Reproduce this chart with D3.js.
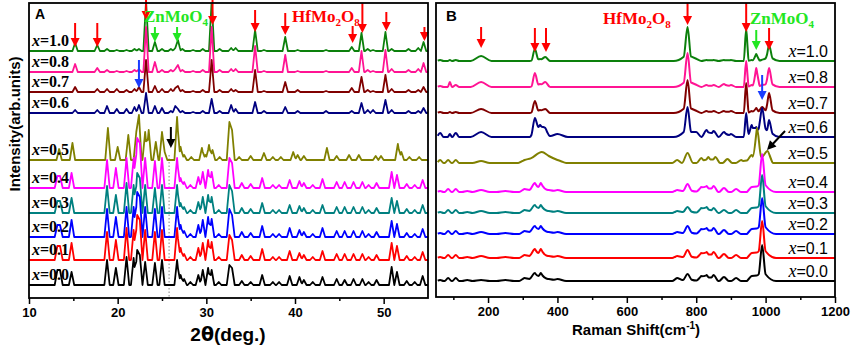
<!DOCTYPE html>
<html>
<head>
<meta charset="utf-8">
<script src="https://cdn.jsdelivr.net/npm/d3@7"></script>
<style>
  body { margin: 0; background: #fff; }
  svg text { font-family: "Liberation Sans", Arial, sans-serif; }
</style>
</head>
<body>
<div id="chart"></div>
<script>
// compositions, bottom to top
const labels = ['0.0', '0.1', '0.2', '0.3', '0.4', '0.5', '0.6', '0.7', '0.8', '1.0']
const colors = ['#000000', '#ff0000', '#0000ff', '#008080', '#ff00ff', '#808000', '#000080', '#800000', '#ff1493', '#0c800c']

// stacking offsets (arb. units)
const offsetsA = [13, 38, 61, 85, 110, 138, 185, 206, 226, 247]
const offsetsB = [16, 39, 63, 84, 105, 134, 160, 184, 210, 236]

// ---- XRD peaks (2theta, deg) ----
const xrdPosLow = [13.2, 13.5, 14.8, 18.8, 19.8, 21.0, 21.8, 22.2, 22.5, 23.1, 24.2, 25.0, 26.7, 27.1, 27.5, 28.2, 29.1, 29.6, 30.2, 30.6, 31.4, 32.6, 32.9, 34.0, 35.0, 36.3, 37.5, 38.2, 39.4, 40.5, 41.0, 42.0, 43.1, 44.7, 45.6, 46.6, 47.6, 48.3, 49.2, 50.9, 51.5, 52.6, 53.5, 54.4]
const xrd00 = [15, 15, 13, 25, 17, 28, 27, 35, 30, 23, 22, 25, 25, 10, 6, 3, 10, 15, 17, 15, 3, 20, 17, 4, 3, 10, 3, 3, 9, 8, 5, 3, 8, 6, 5, 6, 6, 3, 5, 18, 13, 4, 3, 9]
const xrd01 = [14, 14, 17, 28, 20, 32, 30, 45, 40, 30, 28, 30, 32, 12, 6, 3, 12, 17, 20, 18, 3, 25, 20, 5, 4, 11, 3, 3, 9, 7, 5, 3, 9, 6, 6, 6, 6, 3, 5, 17, 14, 4, 3, 8]
const xrd02 = [12, 12, 17, 28, 20, 30, 30, 45, 40, 30, 28, 30, 30, 12, 6, 3, 12, 17, 20, 18, 3, 28, 22, 5, 4, 11, 3, 3, 9, 7, 5, 3, 9, 6, 6, 6, 6, 3, 5, 16, 13, 4, 3, 8]
const xrd03 = [12, 12, 15, 27, 18, 30, 28, 40, 35, 28, 25, 28, 28, 10, 6, 3, 11, 16, 18, 16, 3, 28, 22, 5, 4, 10, 3, 3, 8, 7, 5, 3, 8, 6, 6, 6, 6, 3, 5, 15, 12, 4, 3, 8]
const xrd04 = [12, 12, 15, 28, 20, 30, 30, 50, 45, 30, 27, 30, 30, 10, 6, 3, 11, 16, 18, 16, 3, 30, 25, 5, 4, 10, 3, 3, 8, 7, 5, 3, 9, 6, 6, 6, 6, 3, 5, 16, 13, 4, 3, 8]

const xrdPosMid = [13.4, 14.9, 18.9, 20.0, 21.2, 22.1, 22.4, 23.1, 23.5, 24.3, 25.0, 25.3, 26.7, 27.1, 27.5, 28.3, 29.5, 29.9, 30.3, 30.7, 31.5, 32.6, 32.9, 33.7, 35.0, 36.5, 37.5, 38.4, 39.8, 40.3, 41.0, 43.6, 44.7, 46.1, 47.2, 49.1, 49.7, 51.6, 52.0, 52.9, 54.0]
const xrd05 = [11, 17, 32, 13, 25, 28, 45, 28, 30, 18, 28, 8, 43, 13, 5, 3, 12, 5, 15, 10, 3, 38, 30, 3, 4, 7, 3, 3, 8, 5, 4, 12, 4, 5, 5, 4, 4, 16, 8, 3, 3]

const xrdPosHigh = [15.2, 17.7, 18.8, 19.9, 21.0, 21.9, 22.4, 23.2, 24.2, 25.0, 26.0, 26.5, 26.8, 27.3, 28.5, 29.6, 30.6, 31.5, 32.8, 33.3, 35.5, 36.5, 38.9, 40.3, 43.5, 46.4, 47.5, 48.2, 48.8, 50.2, 50.9, 52.8, 53.9, 54.5]
const xrd06 = [3, 3, 7, 4, 4, 6, 8, 20, 7, 5, 2, 7, 4, 2, 1, 2, 14, 2, 8, 4, 11, 2, 6, 2, 2, 2, 10, 3, 3, 13, 3, 2, 2, 5]
const xrd07 = [5, 3, 3, 3, 2, 3, 5, 32, 6, 3, 3, 4, 6, 2, 1, 2, 32, 2, 3, 2, 22, 1, 10, 2, 1, 4, 15, 2, 1, 17, 3, 2, 2, 5]
const xrd08 = [8, 4, 2, 1, 1, 2, 3, 45, 10, 2, 2, 3, 7, 2, 1, 2, 45, 2, 3, 3, 26, 1, 17, 1, 1, 4, 21, 2, 1, 22, 3, 2, 3, 9]
const xrd10 = [8, 6, 2, 1, 1, 2, 2, 50, 9, 2, 2, 3, 11, 2, 1, 2, 50, 2, 3, 3, 21, 1, 14, 1, 1, 4, 18, 2, 1, 19, 2, 2, 3, 9]

// ---- Raman peaks (cm-1) ----
const ramPosLow = [62, 85, 107, 140, 180, 250, 305, 335, 345, 352, 375, 400, 745, 775, 775, 815, 830, 850, 880, 915, 960, 990, 990]
const ramWidLow = [10, 10, 10, 15, 25, 25, 15, 16, 45, 16, 18, 25, 14, 12, 35, 14, 14, 14, 14, 14, 14, 10, 40]
const ram00 = [1, 3, 3, 1, 1, 1, 3, 8, 5, 8, 2, 2, 3, 7, 2, 5, 6, 6, 4, 3, 5, 36, 9]
const ram01 = [1, 3, 3, 1, 2, 1, 3, 9, 5, 9, 2, 2, 2, 8, 2, 5, 6, 6, 4, 3, 5, 37, 9]
const ram02 = [1, 3, 3, 1, 2, 1, 3, 8, 5, 8, 2, 2, 2, 8, 2, 5, 6, 6, 4, 3, 5, 36, 9]
const ram03 = [1, 3, 3, 1, 2, 1, 3, 8, 5, 8, 2, 2, 2, 6, 2, 5, 6, 5, 3, 3, 5, 38, 9]
const ram04 = [1, 3, 3, 1, 2, 1, 3, 9, 5, 9, 2, 2, 2, 8, 2, 5, 6, 6, 4, 3, 5, 38, 9]

const ramPosMid = [62, 85, 107, 180, 305, 355, 400, 745, 775, 815, 835, 855, 890, 930, 960, 975, 975, 1005]
const ramWidMid = [10, 10, 10, 25, 18, 55, 25, 14, 16, 14, 14, 14, 14, 16, 14, 12, 40, 16]
const ram05 = [3, 3, 3, 2, 3, 11, 3, 3, 10, 5, 6, 6, 4, 3, 8, 35, 9, 12]

const ramPosHigh = [62, 90, 107, 180, 335, 350, 365, 400, 775, 775, 800, 830, 850, 880, 900, 944, 960, 973, 990, 1010, 1010]
const ramWidHigh = [10, 6, 10, 30, 10, 30, 12, 30, 11, 40, 15, 15, 15, 15, 15, 7, 12, 10, 14, 10, 30]
const ram06 = [4, 3, 4, 5, 19, 12, 9, 3, 30, 7, 5, 7, 6, 5, 3, 24, 12, 10, 29, 17, 5]
const ram07 = [1, 1, 1, 4, 12, 3, 4, 0, 33, 6, 2, 2, 2, 2, 2, 30, 2, 5, 6, 20, 4]
const ram08 = [1, 5, 2, 5, 14, 3, 5, 0, 34, 6, 2, 2, 2, 3, 2, 26, 2, 19, 2, 19, 4]
const ram10 = [1, 1, 1, 5, 12, 2, 4, 0, 34, 6, 1, 1, 1, 1, 1, 32, 1, 7, 1, 16, 4]

const xrdSeries = [
  [xrdPosLow, xrd00], [xrdPosLow, xrd01], [xrdPosLow, xrd02], [xrdPosLow, xrd03], [xrdPosLow, xrd04],
  [xrdPosMid, xrd05], [xrdPosHigh, xrd06], [xrdPosHigh, xrd07], [xrdPosHigh, xrd08], [xrdPosHigh, xrd10]
]
const ramSeries = [
  [ramPosLow, ramWidLow, ram00], [ramPosLow, ramWidLow, ram01], [ramPosLow, ramWidLow, ram02],
  [ramPosLow, ramWidLow, ram03], [ramPosLow, ramWidLow, ram04], [ramPosMid, ramWidMid, ram05],
  [ramPosHigh, ramWidHigh, ram06], [ramPosHigh, ramWidHigh, ram07], [ramPosHigh, ramWidHigh, ram08],
  [ramPosHigh, ramWidHigh, ram10]
]

// annotation arrows: data x, pixel top / tip
const arrowsA = [
  { x: 15.2, y0: 23, y1: 47, c: 'red' }, { x: 17.7, y0: 23, y1: 47, c: 'red' },
  { x: 23.2, y0: 0, y1: 20, c: 'red' }, { x: 30.7, y0: 0, y1: 25, c: 'red' },
  { x: 35.5, y0: 10, y1: 32, c: 'red' }, { x: 38.9, y0: 13, y1: 35, c: 'red' },
  { x: 46.5, y0: 26, y1: 43, c: 'red' }, { x: 47.6, y0: 3, y1: 33, c: 'red' },
  { x: 50.3, y0: 12, y1: 31, c: 'red' }, { x: 54.6, y0: 27, y1: 41, c: 'red' },
  { x: 24.2, y0: 27, y1: 42, c: 'lime' }, { x: 26.7, y0: 27, y1: 42, c: 'lime' },
  { x: 22.4, y0: 60, y1: 88, c: 'blue' }, { x: 26.0, y0: 127, y1: 148, c: 'black' }
]
const arrowsB = [
  { x: 180, y0: 27, y1: 48, c: 'red' }, { x: 335, y0: 28, y1: 52, c: 'red' },
  { x: 367, y0: 28, y1: 52, c: 'red' }, { x: 775, y0: 3, y1: 25, c: 'red' },
  { x: 944, y0: 3, y1: 32, c: 'red' }, { x: 1010, y0: 28, y1: 50, c: 'red' },
  { x: 973, y0: 30, y1: 50, c: 'lime' }, { x: 990, y0: 75, y1: 100, c: 'blue' }
]

const width = 856
const height = 351
const peakW = 0.3

const svg = d3.select('#chart').append('svg')
  .attr('width', width)
  .attr('height', height)

// Scales
const xA = d3.scaleLinear().domain([10, 55]).range([29, 428])
const yA = d3.scaleLinear().domain([0, 295]).range([298, 3])
const xB = d3.scaleLinear().domain([50, 1200]).range([436, 835])
const yB = d3.scaleLinear().domain([0, 294]).range([297, 3])

const arrowColor = { red: '#ff0000', lime: '#22e622', blue: '#1a3cff', black: '#000000' }

// build a polyline of peaks (triangle profile at each listed peak)
function peakLine(pos, wid, hts, x0, x1) {
  let xs = [x0, x1]
  pos.forEach((p, i) => { if (hts[i] > 0) xs.push(p - wid[i], p, p + wid[i]) })
  xs = Array.from(new Set(xs)).filter(v => v >= x0 && v <= x1).sort((a, b) => a - b)
  return xs.map(x => [x, d3.max(pos, (p, i) => Math.max(0, hts[i] * (1 - Math.abs(x - p) / wid[i])))])
}

function drawArrow(g, x, y0, y1, color) {
  const head = 9
  g.append('line')
    .attr('x1', x).attr('y1', y0)
    .attr('x2', x).attr('y2', y1 - head + 1)
    .attr('stroke', color)
    .attr('stroke-width', 2)
  g.append('path')
    .attr('d', `M${x - 4.5},${y1 - head}L${x + 4.5},${y1 - head}L${x},${y1}Z`)
    .attr('fill', color)
}

function formula(g, x, y, parts, color, anchor) {
  const t = g.append('text')
    .attr('x', x).attr('y', y)
    .attr('fill', color)
    .attr('text-anchor', anchor || 'start')
    .style('font-family', '"Liberation Serif", "Times New Roman", serif')
    .style('font-weight', 'bold')
    .style('font-size', '17px')
  parts.forEach(p => {
    if (p.sub) t.append('tspan').attr('dy', 4).style('font-size', '11px').text(p.sub)
    else t.append('tspan').attr('dy', p.up ? -4 : 0).text(p.t)
  })
}

function panel(x, y, clipId) {
  const g = svg.append('g')
  svg.append('clipPath').attr('id', clipId)
    .append('rect')
    .attr('x', x.range()[0]).attr('y', y.range()[1])
    .attr('width', x.range()[1] - x.range()[0])
    .attr('height', y.range()[0] - y.range()[1])
  return g
}

// ===== Panel A : XRD =====
const gA = panel(xA, yA, 'clipA')
const lineA = d3.line().x(d => xA(d[0])).y(d => yA(d[1]))
const tracesA = gA.append('g').attr('clip-path', 'url(#clipA)')

// dotted guide at the impurity peak
tracesA.append('line')
  .attr('x1', xA(25.8)).attr('x2', xA(25.8))
  .attr('y1', 155).attr('y2', yA(0))
  .attr('stroke', '#9a9a9a')
  .attr('stroke-width', 1.2)
  .attr('stroke-dasharray', '1.5,2')

for (let i = xrdSeries.length - 1; i >= 0; i--) {
  const [pos, hts] = xrdSeries[i]
  const pts = peakLine(pos, pos.map(() => peakW), hts, 10, 55)
    .map(d => [d[0], d[1] + offsetsA[i]])
  tracesA.append('path')
    .attr('d', lineA(pts))
    .attr('fill', 'none')
    .attr('stroke', colors[i])
    .attr('stroke-width', 1.8)
    .attr('stroke-linejoin', 'round')
}

// ===== Panel B : Raman =====
const gB = panel(xB, yB, 'clipB')
const lineB = d3.line().x(d => xB(d[0])).y(d => yB(d[1])).curve(d3.curveMonotoneX)
const tracesB = gB.append('g').attr('clip-path', 'url(#clipB)')

for (let i = ramSeries.length - 1; i >= 0; i--) {
  const [pos, wid, hts] = ramSeries[i]
  const pts = peakLine(pos, wid, hts, 55, 1200)
    .map(d => [d[0], d[1] + offsetsB[i]])
  tracesB.append('path')
    .attr('d', lineB(pts))
    .attr('fill', 'none')
    .attr('stroke', colors[i])
    .attr('stroke-width', 2)
    .attr('stroke-linejoin', 'round')
}

// composition labels
labels.forEach((lab, i) => {
  const tA = gA.append('text')
    .attr('x', 32)
    .attr('y', yA(offsetsA[i]) - 5)
    .style('font-family', '"Liberation Serif", "Times New Roman", serif')
    .style('font-weight', 'bold')
    .style('font-size', '16px')
  tA.append('tspan').style('font-style', 'italic').text('x')
  tA.append('tspan').text('=' + lab)

  const tB = gB.append('text')
    .attr('x', 828)
    .attr('y', yB(offsetsB[i]) - 4)
    .attr('text-anchor', 'end')
    .style('font-size', '16px')
  tB.append('tspan')
    .style('font-family', '"Liberation Serif", "Times New Roman", serif')
    .style('font-style', 'italic')
    .style('font-size', '18px')
    .text('x')
  tB.append('tspan').text('=' + lab)
})

// arrows
arrowsA.forEach(a => drawArrow(gA, xA(a.x), a.y0, a.y1, arrowColor[a.c]))
arrowsB.forEach(a => drawArrow(gB, xB(a.x), a.y0, a.y1, arrowColor[a.c]))

// black diagonal arrow in B (points at shoulder of x=0.5)
const bx0 = xB(1056), by0 = 131, bx1 = xB(1004), by1 = 150
const ang = Math.atan2(by1 - by0, bx1 - bx0) * 180 / Math.PI
const len = Math.hypot(bx1 - bx0, by1 - by0)
const diag = gB.append('g').attr('transform', `translate(${bx0},${by0}) rotate(${ang - 90})`)
diag.append('line').attr('x1', 0).attr('y1', 0).attr('x2', 0).attr('y2', len - 8)
  .attr('stroke', '#000').attr('stroke-width', 2)
diag.append('path').attr('d', `M-4.5,${len - 9}L4.5,${len - 9}L0,${len}Z`).attr('fill', '#000')

// phase labels
formula(gA, xA(24.2) - 11, 22, [{ t: 'ZnMoO' }, { sub: '4' }], '#22e622')
formula(gA, 292, 22, [{ t: 'HfMo' }, { sub: '2' }, { t: 'O', up: true }, { sub: '8' }], '#ff0000')
formula(gB, 603, 24, [{ t: 'HfMo' }, { sub: '2' }, { t: 'O', up: true }, { sub: '8' }], '#ff0000')
formula(gB, 750, 24, [{ t: 'ZnMoO' }, { sub: '4' }], '#22e622')

// Axes
function bottomAxis(g, x, y, major, minor) {
  const ax = g.append('g')
    .attr('transform', `translate(0, ${y.range()[0]})`)
    .call(d3.axisBottom(x).tickValues(major).tickSize(6).tickPadding(4).tickFormat(d3.format('d')))
  ax.select('.domain').remove()
  ax.selectAll('line').attr('stroke-width', 1.5)
  ax.selectAll('text')
    .style('font-family', '"Liberation Sans", Arial, sans-serif')
    .style('font-weight', 'bold')
    .style('font-size', '13px')
    .attr('fill', '#000')
  const mn = g.append('g')
    .attr('transform', `translate(0, ${y.range()[0]})`)
    .call(d3.axisBottom(x).tickValues(minor).tickSize(3).tickFormat(''))
  mn.select('.domain').remove()
  mn.selectAll('line').attr('stroke-width', 1.5)
}
bottomAxis(gA, xA, yA, [10, 20, 30, 40, 50], [15, 25, 35, 45])
bottomAxis(gB, xB, yB, [200, 400, 600, 800, 1000, 1200], [100, 300, 500, 700, 900, 1100])

// frames
;[[gA, xA, yA], [gB, xB, yB]].forEach(([g, x, y]) => {
  g.append('rect')
    .attr('x', x.range()[0]).attr('y', y.range()[1])
    .attr('width', x.range()[1] - x.range()[0])
    .attr('height', y.range()[0] - y.range()[1])
    .attr('fill', 'none')
    .attr('stroke', '#000')
    .attr('stroke-width', 1.8)
})

// panel letters
gA.append('text').attr('x', 35).attr('y', 19)
  .style('font-weight', 'bold').style('font-size', '14px').text('A')
gB.append('text').attr('x', 446).attr('y', 21)
  .style('font-weight', 'bold').style('font-size', '15px').text('B')

// axis titles
const xtA = svg.append('text')
  .attr('x', 228).attr('y', 341)
  .attr('text-anchor', 'middle')
  .style('font-weight', 'bold')
  .style('font-size', '19px')
xtA.append('tspan').text('2')
xtA.append('tspan').style('font-family', '"DejaVu Sans", sans-serif').text('θ')
xtA.append('tspan').text('(deg.)')

const xtB = svg.append('text')
  .attr('x', 636).attr('y', 335)
  .attr('text-anchor', 'middle')
  .style('font-weight', 'bold')
  .style('font-size', '15px')
xtB.append('tspan').text('Raman Shift(cm')
xtB.append('tspan').attr('dy', -6).style('font-size', '10px').text('-1')
xtB.append('tspan').attr('dy', 6).text(')')

svg.append('text')
  .attr('transform', 'translate(20, 124) rotate(-90)')
  .attr('text-anchor', 'middle')
  .style('font-weight', 'bold')
  .style('font-size', '15px')
  .text('Intensity(arb.units)')
</script>
</body>
</html>
